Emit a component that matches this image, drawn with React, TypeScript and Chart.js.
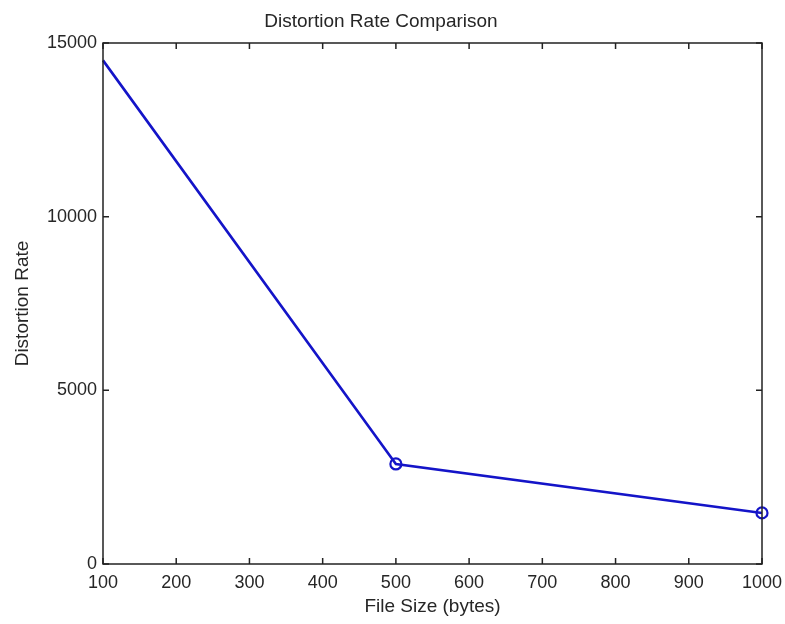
import React, { useEffect, useRef } from "react";
import { Chart, registerables } from "chart.js";

Chart.register(...registerables);

const fileSizes = [100, 500, 1000];
const distortionRates = [14500, 2880, 1470];
const markerRadii = [0, 5.5, 5.5];

const chartTitle = "Distortion Rate Comparison";
const xTitle = "File Size (bytes)";
const yTitle = "Distortion Rate";

const FONT = "'Liberation Sans', Arial, sans-serif";
const TEXT = "#262626";

const boxTicksPlugin = {
  id: "boxTicks",
  afterDraw(chart: any) {
    const { ctx, chartArea } = chart;
    const { left, right, top, bottom } = chartArea;
    const xs = chart.scales.x;
    const ys = chart.scales.y;
    const len = 6;
    ctx.save();
    ctx.strokeStyle = "#222";
    ctx.lineWidth = 1.5;
    ctx.beginPath();
    xs.ticks.forEach((t: any) => {
      const px = xs.getPixelForValue(t.value);
      ctx.moveTo(px, bottom);
      ctx.lineTo(px, bottom - len);
      ctx.moveTo(px, top);
      ctx.lineTo(px, top + len);
    });
    ys.ticks.forEach((t: any) => {
      const py = ys.getPixelForValue(t.value);
      ctx.moveTo(left, py);
      ctx.lineTo(left + len, py);
      ctx.moveTo(right, py);
      ctx.lineTo(right - len, py);
    });
    ctx.stroke();
    ctx.strokeRect(left, top, right - left, bottom - top);
    ctx.restore();
  },
};

export default function App() {
  const ref = useRef<HTMLCanvasElement | null>(null);

  useEffect(() => {
    if (!ref.current) return;
    const chart = new Chart(ref.current, {
      type: "line",
      data: {
        datasets: [
          {
            data: fileSizes.map((x, i) => ({ x, y: distortionRates[i] })),
            borderColor: "#1414c8",
            backgroundColor: "rgba(0,0,0,0)",
            borderWidth: 2.6,
            pointRadius: markerRadii,
            pointBorderWidth: 2.2,
            pointBorderColor: "#1414c8",
            pointBackgroundColor: "rgba(0,0,0,0)",
            tension: 0,
            clip: false as any,
          },
        ],
      },
      options: {
        animation: false,
        responsive: false,
        maintainAspectRatio: false,
        layout: { padding: { left: 0, right: 23, top: 0, bottom: 0 } },
        plugins: {
          legend: { display: false },
          tooltip: { enabled: false },
          title: {
            display: true,
            text: chartTitle,
            color: TEXT,
            font: { family: FONT, size: 19, weight: "normal" },
            padding: { top: 10, bottom: 10.2 },
          },
        },
        scales: {
          x: {
            type: "linear",
            min: 100,
            max: 1000,
            ticks: {
              stepSize: 100,
              color: TEXT,
              font: { family: FONT, size: 18 },
              padding: 8,
              maxRotation: 0,
              callback: (v: any) => String(v),
            },
            grid: { display: false, drawTicks: false },
            border: { display: false },
            title: {
              display: true,
              text: xTitle,
              color: TEXT,
              font: { family: FONT, size: 19 },
              padding: { top: 0, bottom: 6 },
            },
            afterFit(scale: any) {
              scale.height = 60;
              scale.paddingRight = 0;
              scale.paddingLeft = 0;
            },
          },
          y: {
            type: "linear",
            min: 0,
            max: 15000,
            ticks: {
              stepSize: 5000,
              color: TEXT,
              font: { family: FONT, size: 18 },
              padding: 6,
              callback: (v: any) => String(v),
            },
            grid: { display: false, drawTicks: false },
            border: { display: false },
            title: {
              display: true,
              text: yTitle,
              color: TEXT,
              font: { family: FONT, size: 19 },
              padding: { top: 11, bottom: 0 },
            },
            afterFit(scale: any) {
              scale.width = 103;
            },
          },
        },
      },
      plugins: [boxTicksPlugin],
    });
    return () => chart.destroy();
  }, []);

  return (
    <div style={{ position: "fixed", left: 0, top: 0, width: 785, height: 624, background: "#fff" }}>
      <canvas ref={ref} width={785} height={624} style={{ display: "block" }} />
    </div>
  );
}
